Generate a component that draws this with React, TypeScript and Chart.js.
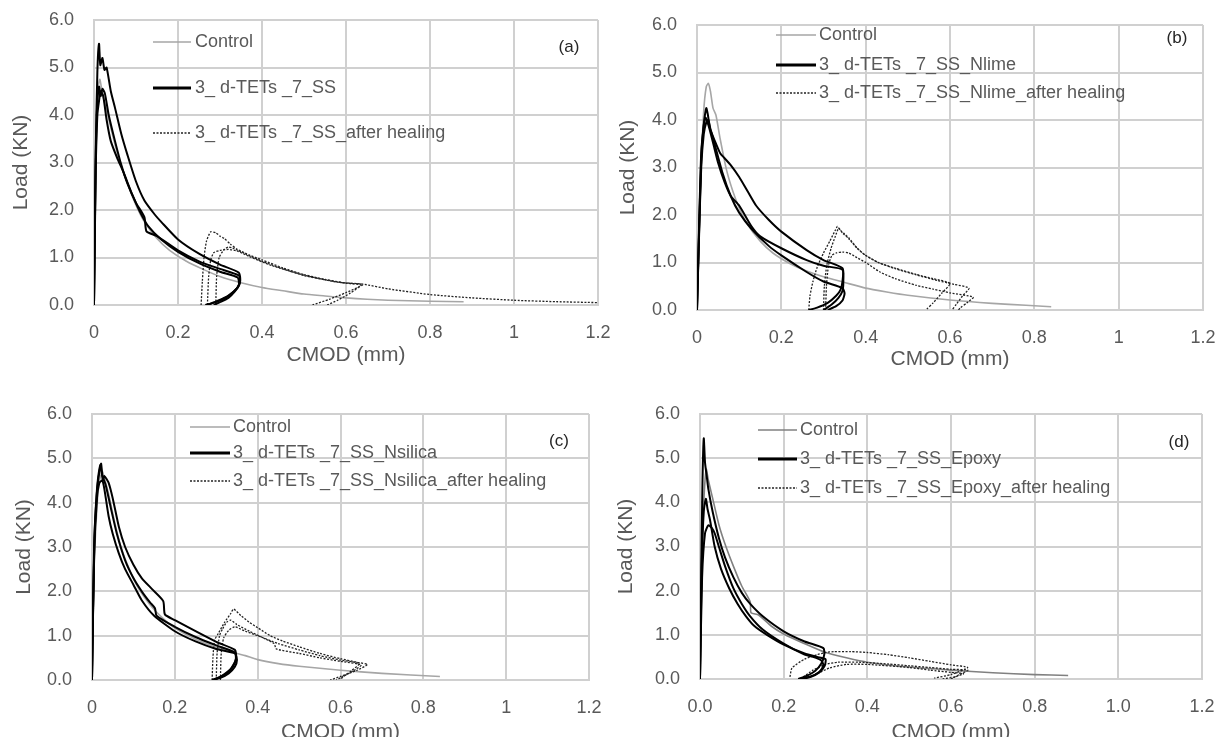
import React, { useEffect, useRef } from 'react';
import { Chart, registerables } from 'chart.js';

Chart.register(...registerables);

type Pt = [number, number];

// ---------- axis ticks ----------
const X_TICK_VALUES = [0, 0.2, 0.4, 0.6, 0.8, 1.0, 1.2];
const X_TICK_LABELS = ['0', '0.2', '0.4', '0.6', '0.8', '1', '1.2'];
const X_TICK_LABELS_D = ['0.0', '0.2', '0.4', '0.6', '0.8', '1.0', '1.2'];
const Y_TICK_VALUES = [0, 1, 2, 3, 4, 5, 6];
const Y_TICK_LABELS = ['0.0', '1.0', '2.0', '3.0', '4.0', '5.0', '6.0'];
const X_TITLE = 'CMOD (mm)';
const Y_TITLE = 'Load (KN)';

// ---------- legends ----------
const LEGEND_A = ['Control', '3_ d-TETs _7_SS', '3_ d-TETs _7_SS_after healing'];
const LEGEND_B = ['Control', '3_ d-TETs _7_SS_Nlime', '3_ d-TETs _7_SS_Nlime_after healing'];
const LEGEND_C = ['Control', '3_ d-TETs _7_SS_Nsilica', '3_ d-TETs _7_SS_Nsilica_after healing'];
const LEGEND_D = ['Control', '3_ d-TETs _7_SS_Epoxy', '3_ d-TETs _7_SS_Epoxy_after healing'];
const PANEL_TAGS = ['(a)', '(b)', '(c)', '(d)'];

// ---------- panel (a) ----------
const A_CONTROL: Pt[] = [[0,0],[0.003,2.5],[0.006,4.0],[0.01,4.6],[0.014,4.75],[0.02,4.45],[0.03,4.1],[0.045,3.55],[0.06,3.05],[0.08,2.55],[0.1,2.1],[0.12,1.75],[0.15,1.4],[0.18,1.15],[0.22,0.92],[0.26,0.75],[0.3,0.6],[0.35,0.47],[0.4,0.37],[0.45,0.3],[0.5,0.23],[0.55,0.19],[0.6,0.15],[0.65,0.12],[0.7,0.1],[0.8,0.08],[0.88,0.07]];
const A_SPEC_1: Pt[] = [[0,0],[0.004,3.2],[0.008,4.9],[0.012,5.5],[0.015,5.05],[0.02,5.2],[0.025,4.95],[0.03,5.0],[0.04,4.5],[0.05,4.15],[0.065,3.6],[0.08,3.15],[0.1,2.6],[0.12,2.2],[0.145,1.9],[0.16,1.75],[0.2,1.38],[0.25,1.08],[0.3,0.85],[0.345,0.68],[0.348,0.5],[0.34,0.35],[0.32,0.2],[0.295,0.09],[0.27,0.0]];
const A_SPEC_2: Pt[] = [[0,0],[0.004,3.0],[0.008,4.3],[0.012,4.6],[0.016,4.4],[0.02,4.55],[0.026,4.45],[0.035,4.0],[0.05,3.45],[0.065,2.95],[0.08,2.55],[0.1,2.15],[0.12,1.85],[0.125,1.55],[0.15,1.45],[0.2,1.15],[0.25,0.92],[0.3,0.76],[0.345,0.62],[0.347,0.45],[0.335,0.3],[0.315,0.16],[0.29,0.06],[0.265,0.0]];
const A_SPEC_3: Pt[] = [[0,0],[0.004,2.8],[0.008,4.0],[0.012,4.3],[0.016,4.5],[0.022,4.4],[0.03,3.9],[0.04,3.45],[0.055,3.1],[0.07,2.8],[0.09,2.35],[0.11,1.95],[0.13,1.65],[0.16,1.38],[0.2,1.12],[0.25,0.88],[0.3,0.7],[0.342,0.58],[0.345,0.42],[0.335,0.28],[0.32,0.15],[0.3,0.06],[0.285,0.0]];
const A_HEAL_1: Pt[] = [[0.255,0.0],[0.258,0.5],[0.262,1.0],[0.268,1.35],[0.278,1.54],[0.29,1.52],[0.3,1.45],[0.31,1.4],[0.325,1.28],[0.34,1.18],[0.37,1.05],[0.4,0.95],[0.45,0.78],[0.5,0.64],[0.55,0.54],[0.6,0.46],[0.64,0.43],[0.6,0.26],[0.56,0.12],[0.52,0.0]];
const A_HEAL_2: Pt[] = [[0.27,0.0],[0.273,0.6],[0.278,0.95],[0.285,1.1],[0.3,1.15],[0.32,1.17],[0.34,1.14],[0.37,1.02],[0.42,0.84],[0.5,0.63],[0.58,0.48],[0.64,0.44],[0.7,0.34],[0.8,0.22],[0.9,0.15],[1.0,0.1],[1.1,0.07],[1.2,0.05]];
const A_HEAL_3: Pt[] = [[0.29,0.0],[0.292,0.6],[0.298,1.0],[0.31,1.17],[0.32,1.22],[0.33,1.2],[0.36,1.08],[0.4,0.92],[0.45,0.76],[0.5,0.62],[0.55,0.53],[0.6,0.46],[0.635,0.42],[0.61,0.25],[0.58,0.1],[0.555,0.0]];

// ---------- panel (b) ----------
const B_CONTROL: Pt[] = [[0,0],[0.005,1.5],[0.01,3.0],[0.016,4.2],[0.022,4.7],[0.027,4.77],[0.032,4.6],[0.038,4.25],[0.045,4.1],[0.055,3.6],[0.07,2.95],[0.085,2.5],[0.1,2.15],[0.12,1.8],[0.15,1.45],[0.18,1.2],[0.22,0.98],[0.26,0.82],[0.3,0.7],[0.35,0.58],[0.4,0.46],[0.45,0.38],[0.5,0.31],[0.6,0.21],[0.7,0.14],[0.78,0.1],[0.84,0.07]];
const B_SPEC_1: Pt[] = [[0,0],[0.005,1.8],[0.01,3.3],[0.016,3.9],[0.022,4.25],[0.026,4.1],[0.03,3.85],[0.036,3.7],[0.045,3.5],[0.055,3.3],[0.065,3.2],[0.08,3.05],[0.1,2.8],[0.12,2.5],[0.14,2.2],[0.17,1.9],[0.2,1.65],[0.26,1.26],[0.3,1.05],[0.345,0.88],[0.347,0.6],[0.345,0.4],[0.335,0.25],[0.32,0.12],[0.305,0.03],[0.3,0.0]];
const B_SPEC_2: Pt[] = [[0,0],[0.005,1.7],[0.01,3.2],[0.015,3.8],[0.02,4.05],[0.025,3.95],[0.03,3.8],[0.04,3.45],[0.05,3.1],[0.065,2.7],[0.08,2.4],[0.1,2.2],[0.13,1.75],[0.15,1.55],[0.2,1.3],[0.26,1.05],[0.3,0.93],[0.345,0.85],[0.345,0.6],[0.34,0.42],[0.33,0.3],[0.31,0.15],[0.285,0.05],[0.265,0.0]];
const B_SPEC_3: Pt[] = [[0,0],[0.005,1.6],[0.01,3.0],[0.016,3.7],[0.022,3.95],[0.027,4.0],[0.032,3.8],[0.04,3.55],[0.06,2.9],[0.08,2.4],[0.1,2.05],[0.13,1.7],[0.17,1.35],[0.2,1.15],[0.26,0.8],[0.3,0.6],[0.345,0.46],[0.35,0.35],[0.345,0.2],[0.33,0.08],[0.31,0.0]];
const B_HEAL_1: Pt[] = [[0.265,0.0],[0.268,0.3],[0.275,0.6],[0.285,0.9],[0.3,1.2],[0.315,1.45],[0.328,1.68],[0.333,1.76],[0.34,1.68],[0.35,1.6],[0.36,1.52],[0.38,1.3],[0.4,1.15],[0.43,1.0],[0.47,0.88],[0.52,0.75],[0.56,0.66],[0.6,0.56],[0.58,0.35],[0.56,0.15],[0.545,0.02]];
const B_HEAL_2: Pt[] = [[0.3,0.0],[0.302,0.5],[0.308,0.95],[0.318,1.3],[0.328,1.55],[0.336,1.72],[0.345,1.62],[0.36,1.5],[0.38,1.3],[0.4,1.15],[0.43,1.0],[0.47,0.87],[0.52,0.74],[0.57,0.62],[0.61,0.54],[0.645,0.46],[0.63,0.3],[0.615,0.12],[0.605,0.0]];
const B_HEAL_3: Pt[] = [[0.305,0.0],[0.307,0.5],[0.312,0.95],[0.32,1.15],[0.33,1.2],[0.345,1.22],[0.36,1.2],[0.38,1.1],[0.4,1.0],[0.434,0.8],[0.47,0.66],[0.52,0.52],[0.56,0.44],[0.6,0.36],[0.655,0.27],[0.64,0.15],[0.625,0.05],[0.62,0.0]];

// ---------- panel (c) ----------
const C_CONTROL: Pt[] = [[0,0],[0.005,2.5],[0.012,3.9],[0.018,4.5],[0.025,4.7],[0.03,4.55],[0.04,4.2],[0.055,3.55],[0.07,3.0],[0.09,2.5],[0.11,2.1],[0.14,1.7],[0.17,1.4],[0.2,1.17],[0.25,0.92],[0.3,0.74],[0.35,0.6],[0.37,0.55],[0.4,0.46],[0.45,0.37],[0.5,0.31],[0.6,0.22],[0.7,0.15],[0.84,0.08]];
const C_SPEC_1: Pt[] = [[0,0],[0.005,3.0],[0.012,4.3],[0.018,4.7],[0.022,4.88],[0.026,4.5],[0.03,4.6],[0.04,4.45],[0.05,4.1],[0.065,3.45],[0.08,3.0],[0.1,2.6],[0.12,2.3],[0.145,2.05],[0.172,1.78],[0.176,1.48],[0.2,1.35],[0.25,1.1],[0.3,0.86],[0.345,0.68],[0.348,0.5],[0.34,0.3],[0.325,0.15],[0.305,0.05],[0.29,0.0]];
const C_SPEC_2: Pt[] = [[0,0],[0.006,3.2],[0.014,4.5],[0.02,4.85],[0.025,4.6],[0.033,4.4],[0.045,3.9],[0.06,3.3],[0.08,2.7],[0.1,2.3],[0.12,2.0],[0.14,1.75],[0.152,1.62],[0.156,1.45],[0.2,1.2],[0.25,0.97],[0.3,0.78],[0.345,0.62],[0.347,0.45],[0.335,0.25],[0.315,0.1],[0.295,0.0]];
const C_SPEC_3: Pt[] = [[0,0],[0.005,2.8],[0.012,4.1],[0.018,4.45],[0.025,4.5],[0.03,4.3],[0.04,3.7],[0.05,3.3],[0.065,2.85],[0.08,2.5],[0.1,2.15],[0.12,1.8],[0.15,1.45],[0.2,1.1],[0.25,0.87],[0.3,0.7],[0.345,0.6],[0.35,0.45],[0.345,0.3],[0.33,0.15],[0.31,0.05],[0.29,0.0]];
const C_HEAL_1: Pt[] = [[0.29,0.0],[0.292,0.5],[0.296,0.9],[0.305,1.05],[0.32,1.3],[0.335,1.5],[0.342,1.6],[0.36,1.45],[0.38,1.3],[0.4,1.18],[0.43,1.0],[0.46,0.88],[0.5,0.75],[0.55,0.6],[0.6,0.48],[0.64,0.4],[0.665,0.35],[0.64,0.22],[0.6,0.08],[0.575,0.0]];
const C_HEAL_2: Pt[] = [[0.3,0.0],[0.302,0.6],[0.308,1.0],[0.315,1.15],[0.325,1.3],[0.335,1.35],[0.35,1.25],[0.38,1.1],[0.42,0.92],[0.44,0.82],[0.445,0.7],[0.5,0.6],[0.55,0.5],[0.6,0.42],[0.65,0.34],[0.63,0.2],[0.6,0.05],[0.59,0.0]];
const C_HEAL_3: Pt[] = [[0.31,0.0],[0.312,0.6],[0.318,0.95],[0.33,1.12],[0.345,1.2],[0.37,1.1],[0.4,1.0],[0.45,0.82],[0.5,0.68],[0.55,0.55],[0.6,0.45],[0.645,0.37],[0.625,0.2],[0.605,0.06],[0.6,0.0]];

// ---------- panel (d) ----------
const D_CONTROL: Pt[] = [[0,0],[0.004,2.5],[0.009,4.0],[0.015,4.75],[0.02,4.5],[0.03,4.1],[0.045,3.5],[0.06,3.05],[0.08,2.55],[0.1,2.1],[0.12,1.75],[0.122,1.5],[0.14,1.45],[0.17,1.2],[0.2,1.02],[0.25,0.8],[0.3,0.6],[0.35,0.48],[0.4,0.38],[0.5,0.27],[0.6,0.2],[0.7,0.14],[0.8,0.1],[0.88,0.08]];
const D_SPEC_1: Pt[] = [[0,0],[0.003,2.5],[0.006,4.5],[0.009,5.45],[0.012,4.9],[0.016,4.6],[0.02,4.3],[0.03,3.8],[0.045,3.2],[0.06,2.75],[0.08,2.3],[0.1,1.95],[0.12,1.7],[0.15,1.42],[0.2,1.08],[0.25,0.85],[0.295,0.7],[0.297,0.55],[0.29,0.35],[0.275,0.18],[0.255,0.07],[0.235,0.0]];
const D_SPEC_2: Pt[] = [[0,0],[0.004,2.5],[0.009,3.8],[0.014,4.08],[0.018,3.85],[0.024,3.6],[0.035,3.0],[0.05,2.5],[0.07,2.05],[0.09,1.7],[0.11,1.42],[0.13,1.2],[0.16,1.0],[0.2,0.78],[0.25,0.58],[0.28,0.5],[0.3,0.45],[0.298,0.3],[0.285,0.15],[0.265,0.05],[0.245,0.0]];
const D_SPEC_3: Pt[] = [[0,0],[0.005,2.3],[0.012,3.3],[0.02,3.48],[0.028,3.42],[0.035,3.3],[0.045,3.0],[0.06,2.55],[0.08,2.05],[0.1,1.7],[0.12,1.42],[0.15,1.12],[0.2,0.8],[0.25,0.55],[0.27,0.5],[0.29,0.42],[0.295,0.3],[0.285,0.16],[0.265,0.06],[0.235,0.0]];
const D_HEAL_1: Pt[] = [[0.215,0.05],[0.22,0.25],[0.25,0.45],[0.28,0.55],[0.3,0.6],[0.32,0.62],[0.36,0.62],[0.4,0.6],[0.45,0.55],[0.5,0.48],[0.55,0.4],[0.6,0.32],[0.64,0.26],[0.6,0.1],[0.56,0.02]];
const D_HEAL_2: Pt[] = [[0.24,0.0],[0.27,0.2],[0.3,0.33],[0.33,0.38],[0.38,0.38],[0.45,0.34],[0.5,0.3],[0.55,0.26],[0.6,0.22],[0.64,0.2],[0.62,0.1],[0.6,0.0]];
const D_HEAL_3: Pt[] = [[0.25,0.0],[0.28,0.12],[0.31,0.25],[0.35,0.33],[0.4,0.33],[0.5,0.26],[0.55,0.2],[0.6,0.15],[0.63,0.12],[0.61,0.05],[0.58,0.0]];

// ---------- layout / styling ----------
const W = 1216;
const H = 760;
const FONT = '"Liberation Sans", Arial, sans-serif';
const TEXT = '#595959';
const GRID = '#d0d0d0';
const Y_BOX = 90;

interface PanelCfg {
  control: Pt[];
  specs: Pt[][];
  heals: Pt[][];
  legend: string[];
  xLabels: string[];
  tag: string;
  controlColor: string;
  area: { l: number; r: number; t: number; b: number };
  xBox: number;
  yTitlePad: number;
  leg: { x1: number; x2: number; tx: number; rows: number[] };
  tagPos: { x: number; y: number };
}

const PANELS: PanelCfg[] = [
  {
    control: A_CONTROL, specs: [A_SPEC_1, A_SPEC_2, A_SPEC_3], heals: [A_HEAL_1, A_HEAL_2, A_HEAL_3],
    legend: LEGEND_A, xLabels: X_TICK_LABELS, tag: PANEL_TAGS[0], controlColor: '#a6a6a6',
    area: { l: 94, r: 598, t: 20, b: 305 }, xBox: 63, yTitlePad: 5,
    leg: { x1: 153, x2: 191, tx: 195, rows: [42, 88, 133] }, tagPos: { x: 569, y: 47 },
  },
  {
    control: B_CONTROL, specs: [B_SPEC_1, B_SPEC_2, B_SPEC_3], heals: [B_HEAL_1, B_HEAL_2, B_HEAL_3],
    legend: LEGEND_B, xLabels: X_TICK_LABELS, tag: PANEL_TAGS[1], controlColor: '#a6a6a6',
    area: { l: 697, r: 1203, t: 25, b: 310 }, xBox: 62, yTitlePad: 9,
    leg: { x1: 776, x2: 816, tx: 819, rows: [35, 65, 93] }, tagPos: { x: 1177, y: 38 },
  },
  {
    control: C_CONTROL, specs: [C_SPEC_1, C_SPEC_2, C_SPEC_3], heals: [C_HEAL_1, C_HEAL_2, C_HEAL_3],
    legend: LEGEND_C, xLabels: X_TICK_LABELS, tag: PANEL_TAGS[2], controlColor: '#a6a6a6',
    area: { l: 92, r: 589, t: 414, b: 680 }, xBox: 65, yTitlePad: 10,
    leg: { x1: 190, x2: 230, tx: 233, rows: [427, 453, 481] }, tagPos: { x: 559, y: 441 },
  },
  {
    control: D_CONTROL, specs: [D_SPEC_1, D_SPEC_2, D_SPEC_3], heals: [D_HEAL_1, D_HEAL_2, D_HEAL_3],
    legend: LEGEND_D, xLabels: X_TICK_LABELS_D, tag: PANEL_TAGS[3], controlColor: '#808080',
    area: { l: 700, r: 1202, t: 414, b: 679 }, xBox: 66, yTitlePad: 4,
    leg: { x1: 758, x2: 797, tx: 800, rows: [430, 459, 488] }, tagPos: { x: 1179, y: 442 },
  },
];

const toXY = (pts: Pt[]) => pts.map(([x, y]) => ({ x, y }));

function Panel({ cfg }: { cfg: PanelCfg }) {
  const ref = useRef<HTMLCanvasElement | null>(null);

  useEffect(() => {
    if (!ref.current) return;
    const legendStyles = [
      { color: cfg.controlColor, width: 1.6, dash: [] as number[] },
      { color: '#000000', width: 3, dash: [] as number[] },
      { color: '#222222', width: 1.3, dash: [2, 1.5] },
    ];
    const decor = {
      id: 'decor',
      afterDraw(chart: any) {
        const ctx = chart.ctx as CanvasRenderingContext2D;
        ctx.save();
        cfg.legend.forEach((text, i) => {
          const y = cfg.leg.rows[i];
          const st = legendStyles[i];
          ctx.beginPath();
          ctx.strokeStyle = st.color;
          ctx.lineWidth = st.width;
          ctx.setLineDash(st.dash);
          ctx.moveTo(cfg.leg.x1, y);
          ctx.lineTo(cfg.leg.x2, y);
          ctx.stroke();
          ctx.setLineDash([]);
          ctx.fillStyle = TEXT;
          ctx.font = `18px ${FONT}`;
          ctx.textAlign = 'left';
          ctx.textBaseline = 'middle';
          ctx.fillText(text, cfg.leg.tx, y);
        });
        ctx.fillStyle = '#262626';
        ctx.font = `17px ${FONT}`;
        ctx.textAlign = 'center';
        ctx.textBaseline = 'middle';
        ctx.fillText(cfg.tag, cfg.tagPos.x, cfg.tagPos.y);
        ctx.restore();
      },
    };

    const datasets: any[] = [];
    cfg.specs.forEach((s, i) => {
      datasets.push({
        label: `${cfg.legend[1]} #${i + 1}`, data: toXY(s), showLine: true,
        borderColor: '#000000', borderWidth: 2, pointRadius: 0, tension: 0.2,
      });
    });
    cfg.heals.forEach((s, i) => {
      datasets.push({
        label: `${cfg.legend[2]} #${i + 1}`, data: toXY(s), showLine: true,
        borderColor: '#222222', borderWidth: 1.3, borderDash: [2, 1.5], pointRadius: 0, tension: 0.2,
      });
    });
    datasets.push({
      label: cfg.legend[0], data: toXY(cfg.control), showLine: true,
      borderColor: cfg.controlColor, borderWidth: 1.6, pointRadius: 0, tension: 0.2,
    });

    const { l, r, t, b } = cfg.area;
    const chart = new Chart(ref.current, {
      type: 'scatter',
      data: { datasets },
      plugins: [decor],
      options: {
        animation: false,
        responsive: false,
        events: [],
        layout: { padding: { left: l - Y_BOX, top: t, right: W - r, bottom: H - b - cfg.xBox } },
        plugins: { legend: { display: false }, tooltip: { enabled: false } },
        scales: {
          x: {
            type: 'linear', min: 0, max: 1.2,
            afterBuildTicks: (s: any) => { s.ticks = X_TICK_VALUES.map((v) => ({ value: v })); },
            afterFit: (s: any) => { s.height = cfg.xBox; s.paddingLeft = 0; s.paddingRight = 0; },
            grid: { color: GRID, lineWidth: 2, drawTicks: false },
            border: { color: GRID, width: 2 },
            ticks: {
              padding: 17, color: TEXT, font: { family: FONT, size: 18 }, maxRotation: 0, autoSkip: false,
              callback: (_v: any, i: number) => cfg.xLabels[i],
            },
            title: { display: true, text: X_TITLE, color: TEXT, font: { family: FONT, size: 21 }, padding: 0 },
          },
          y: {
            type: 'linear', min: 0, max: 6,
            afterBuildTicks: (s: any) => { s.ticks = Y_TICK_VALUES.map((v) => ({ value: v })); },
            afterFit: (s: any) => { s.width = Y_BOX; s.paddingTop = 0; s.paddingBottom = 0; },
            grid: { color: GRID, lineWidth: 2, drawTicks: false },
            border: { color: GRID, width: 2 },
            ticks: {
              padding: 20, color: TEXT, font: { family: FONT, size: 18 }, autoSkip: false,
              callback: (_v: any, i: number) => Y_TICK_LABELS[i],
            },
            title: {
              display: true, text: Y_TITLE, color: TEXT, font: { family: FONT, size: 21 },
              padding: { top: cfg.yTitlePad, bottom: 0 },
            },
          },
        },
      } as any,
    });
    return () => chart.destroy();
  }, [cfg]);

  return (
    <canvas
      ref={ref}
      width={W}
      height={H}
      style={{ position: 'absolute', left: 0, top: 0, width: W, height: H }}
    />
  );
}

export default function App() {
  return (
    <div
      style={{
        position: 'absolute', left: 0, top: 0, width: W, height: 737,
        overflow: 'hidden', background: '#ffffff',
      }}
    >
      {PANELS.map((p, i) => (
        <Panel key={i} cfg={p} />
      ))}
    </div>
  );
}
